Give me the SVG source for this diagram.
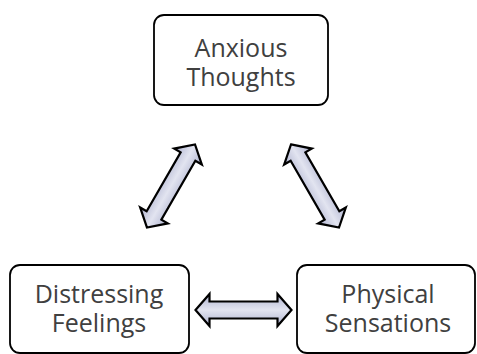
<svg xmlns="http://www.w3.org/2000/svg" width="477" height="354" viewBox="0 0 477 354">
<defs>
<linearGradient id="ag" x1="0" y1="0" x2="0" y2="1">
<stop offset="0" stop-color="#aeb2cf"/>
<stop offset="0.5" stop-color="#e2e4f0"/>
<stop offset="1" stop-color="#aeb2cf"/>
</linearGradient>
<polygon id="arr" points="-48,0 -34,-16 -34,-8.5 34,-8.5 34,-16 48,0 34,16 34,8.5 -34,8.5 -34,16"/>
</defs>
<style>
.box{fill:#fff;stroke:#000;stroke-width:1.8}
.lbl{font-family:"Open Sans","Noto Sans",sans-serif;font-size:25px;fill:#404040;text-anchor:middle}
.a{fill:url(#ag);stroke:#000;stroke-width:2.2;stroke-linejoin:miter}
</style>
<g id="connectors">
<use href="#arr" class="a" transform="translate(171,186) rotate(-60)"/>
<use href="#arr" class="a" transform="translate(315,186) rotate(60)"/>
<use href="#arr" class="a" transform="translate(243.5,310)"/>
</g>
<g id="anxious">
<rect class="box" x="154" y="15" width="174" height="90" rx="10"/>
<text class="lbl" x="241" y="57">Anxious</text>
<text class="lbl" x="241" y="86">Thoughts</text>
</g>
<g id="distressing">
<rect class="box" x="10" y="265" width="179" height="88" rx="10"/>
<text class="lbl" x="99" y="303">Distressing</text>
<text class="lbl" x="99" y="332">Feelings</text>
</g>
<g id="physical">
<rect class="box" x="297" y="265" width="178" height="88" rx="10"/>
<text class="lbl" x="388" y="303">Physical</text>
<text class="lbl" x="388" y="332">Sensations</text>
</g>
</svg>
